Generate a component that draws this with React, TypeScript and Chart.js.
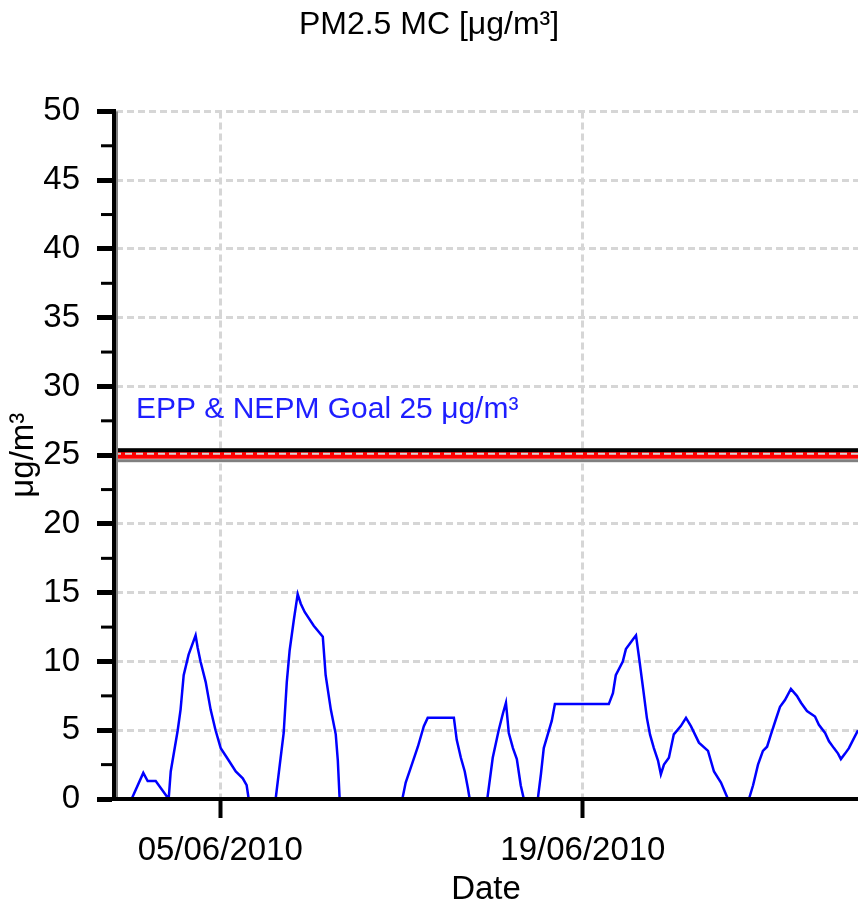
import React, { useEffect, useRef } from 'react';
import { Chart, registerables } from 'chart.js';

Chart.register(...registerables);

const FONT = "'Liberation Sans', Arial, sans-serif";

const chartTitle = 'PM2.5 MC [μg/m³]';
const yAxisTitle = 'μg/m³';
const xAxisTitle = 'Date';
const goalLabel = 'EPP & NEPM Goal 25 μg/m³';
const goalValue = 25;

// time of each reading, in days since 01/06/2010 00:00
const sampleDays = [
  0.58, 1.03, 1.2, 1.51, 2.01, 2.09, 2.36, 2.47, 2.59, 2.78, 3.05, 3.13, 3.24, 3.44, 3.63, 3.82,
  4.02, 4.33, 4.6, 4.87, 5.02, 5.1, 6.14, 6.3, 6.45, 6.57, 6.68, 6.84, 6.99, 7.11, 7.26, 7.61,
  7.96, 8.07, 8.27, 8.46, 8.54, 8.61, 11.03, 11.16, 11.36, 11.63, 11.86, 12.01, 13.02, 13.13,
  13.29, 13.44, 13.56, 13.63, 14.31, 14.52, 14.75, 14.91, 15.03, 15.14, 15.3, 15.45, 15.6, 15.72,
  16.26, 16.38, 16.49, 16.8, 16.92, 19.0, 19.16, 19.27, 19.54, 19.66, 19.93, 20.05, 20.16, 20.32,
  20.47, 20.59, 20.74, 20.9, 21.01, 21.13, 21.32, 21.51, 21.78, 21.98, 22.17, 22.48, 22.83, 23.06,
  23.33, 23.6, 24.41, 24.57, 24.76, 24.95, 25.11, 25.26, 25.45, 25.61, 25.8, 26.03, 26.26, 26.42,
  26.65, 26.96, 27.11, 27.35, 27.5, 27.69, 27.85, 27.96, 28.12, 28.27, 28.43, 28.62,
];

// PM2.5 concentration, μg/m³
const pm25Values = [
  0, 1.9, 1.3, 1.3, 0, 2.0, 5.0, 6.5, 9.0, 10.5, 11.9, 11.0, 10.0, 8.5, 6.5, 5.0,
  3.7, 2.8, 2.0, 1.5, 1.0, 0, 0, 2.5, 4.8, 8.5, 10.8, 13.0, 14.9, 14.2, 13.6, 12.6,
  11.8, 9.0, 6.5, 4.7, 2.8, 0, 0, 1.2, 2.3, 3.8, 5.3, 5.9, 5.9, 4.3,
  3.0, 2.0, 0.8, 0, 0, 3.0, 5.0, 6.2, 7.0, 4.8, 3.7, 2.9, 1.0, 0,
  0, 1.8, 3.7, 5.7, 6.9, 6.9, 7.7, 9.0, 10.0, 10.9, 11.6, 11.9, 10.4, 8.1,
  5.9, 4.7, 3.7, 2.8, 1.8, 2.5, 3.0, 4.7, 5.3, 5.9, 5.3, 4.1, 3.5, 2.0,
  1.2, 0, 0, 1.0, 2.5, 3.5, 3.8, 4.7, 5.8, 6.7, 7.2, 8.0, 7.5, 7.0,
  6.4, 6.0, 5.4, 4.8, 4.2, 3.7, 3.3, 2.9, 3.3, 3.7, 4.3, 5.0,
];

const xTickDays = [4, 18];
const xTickLabels = ['05/06/2010', '19/06/2010'];
const xMin = -0.1;
const xMax = 28.62;
const yMin = 0;
const yMax = 50;
const yStep = 2.5;

const isMajor = (v: number) => Math.abs(v / 5 - Math.round(v / 5)) < 1e-6;

const overlayPlugin = {
  id: 'overlay',
  afterDatasetsDraw(chart: any) {
    const { ctx, chartArea, scales } = chart;
    const ys = scales.y;
    const w = chartArea.right - chartArea.left;
    const gy = ys.getPixelForValue(goalValue);
    ctx.save();
    // goal line edges
    ctx.fillStyle = '#000';
    ctx.fillRect(chartArea.left, gy - 7, w, 4);
    ctx.fillStyle = '#808080';
    ctx.fillRect(chartArea.left, gy + 4, w, 3);
    ctx.strokeStyle = '#d8d8d8';
    ctx.lineWidth = 2;
    ctx.setLineDash([7, 4]);
    ctx.beginPath();
    ctx.moveTo(chartArea.left, gy - 1.5);
    ctx.lineTo(chartArea.right, gy - 1.5);
    ctx.stroke();
    ctx.setLineDash([]);
    // minor ticks
    ctx.fillStyle = '#000';
    for (let v = yMin; v <= yMax; v += yStep) {
      if (isMajor(v)) continue;
      const py = ys.getPixelForValue(v);
      ctx.fillRect(chartArea.left - 13, py - 1.5, 11, 3);
    }
    // axis shadow
    ctx.fillStyle = '#808080';
    ctx.fillRect(chartArea.left + 2, chartArea.top, 2, chartArea.bottom - chartArea.top);
    // goal label
    ctx.font = `30px ${FONT}`;
    ctx.fillStyle = '#1e1eff';
    ctx.textBaseline = 'alphabetic';
    ctx.textAlign = 'left';
    ctx.fillText(goalLabel, chartArea.left + 22, gy - 37);
    ctx.restore();
  },
};

export default function App() {
  const ref = useRef<HTMLCanvasElement | null>(null);

  useEffect(() => {
    if (!ref.current) return;
    const tickFont = { family: FONT, size: 33, weight: 'normal' as const };
    const chart = new Chart(ref.current, {
      type: 'line',
      data: {
        datasets: [
          {
            label: 'PM2.5',
            data: sampleDays.map((d, i) => ({ x: d, y: pm25Values[i] })),
            borderColor: '#0000ff',
            borderWidth: 2.5,
            pointRadius: 0,
            tension: 0,
            fill: false,
          },
          {
            label: 'Goal',
            data: [
              { x: xMin, y: goalValue },
              { x: xMax, y: goalValue },
            ],
            borderColor: '#ff0000',
            borderWidth: 7,
            pointRadius: 0,
            tension: 0,
            fill: false,
          },
        ],
      },
      options: {
        animation: false,
        responsive: false,
        devicePixelRatio: 1,
        layout: { padding: 0 },
        plugins: {
          legend: { display: false },
          tooltip: { enabled: false },
          title: {
            display: true,
            text: chartTitle,
            color: '#000',
            font: { family: FONT, size: 32, weight: 'normal' },
            padding: { top: 6, bottom: 67 },
          },
        },
        scales: {
          x: {
            type: 'linear',
            min: xMin,
            max: xMax,
            afterBuildTicks: (s: any) => {
              s.ticks = xTickDays.map((v) => ({ value: v }));
            },
            afterFit: (s: any) => {
              s.height = 111;
            },
            ticks: {
              autoSkip: false,
              maxRotation: 0,
              color: '#000',
              font: tickFont,
              padding: 13,
              callback: (v: any) => {
                const i = xTickDays.indexOf(Number(v));
                return i >= 0 ? xTickLabels[i] : '';
              },
            },
            grid: {
              color: '#d6d6d6',
              lineWidth: 3,
              tickColor: '#000',
              tickWidth: 4,
              tickLength: 19,
            },
            border: { display: true, color: '#000', width: 4, dash: [7, 4], z: 1 },
            title: {
              display: true,
              text: xAxisTitle,
              color: '#000',
              font: tickFont,
              padding: { top: 0, bottom: 0 },
            },
          },
          y: {
            type: 'linear',
            min: yMin,
            max: yMax,
            afterFit: (s: any) => {
              s.width = 114;
            },
            ticks: {
              stepSize: yStep,
              autoSkip: false,
              color: '#000',
              font: tickFont,
              padding: 17,
              callback: (v: any) => (isMajor(Number(v)) ? String(v) : ''),
            },
            grid: {
              color: (c: any) => (c.tick && isMajor(c.tick.value) ? '#d6d6d6' : 'rgba(0,0,0,0)'),
              lineWidth: 3,
              tickColor: (c: any) => (c.tick && isMajor(c.tick.value) ? '#000' : 'rgba(0,0,0,0)'),
              tickWidth: 5,
              tickLength: 17,
            },
            border: { display: true, color: '#000', width: 4, dash: [7, 4], z: 1 },
            title: {
              display: true,
              text: yAxisTitle,
              color: '#000',
              font: tickFont,
              padding: { top: 4, bottom: 0 },
            },
          },
        },
      },
      plugins: [overlayPlugin],
    } as any);
    return () => chart.destroy();
  }, []);

  return (
    <div style={{ position: 'absolute', left: 0, top: 0, width: 858, height: 910, background: '#fff' }}>
      <canvas ref={ref} width={858} height={910} style={{ display: 'block' }} />
    </div>
  );
}
